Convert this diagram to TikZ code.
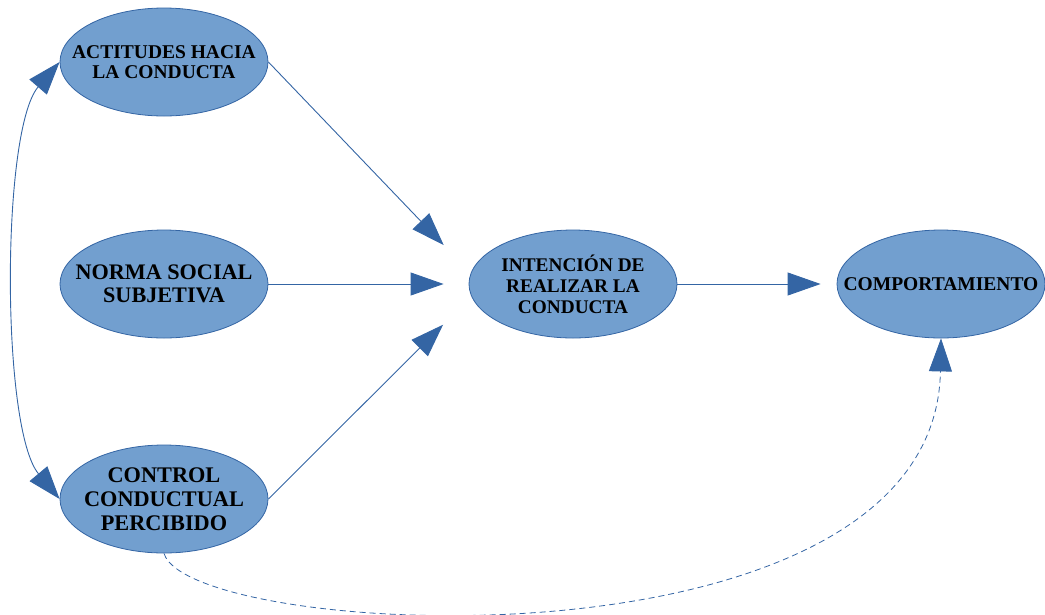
\documentclass[tikz,border=0pt]{standalone}
\usepackage{fontspec}
\setmainfont{Liberation Serif}
\usetikzlibrary{shapes.geometric,arrows.meta}
\definecolor{fillblue}{HTML}{729FCF}
\definecolor{lineblue}{HTML}{3465A4}
\begin{document}
\begin{tikzpicture}[x=1pt,y=-1pt,
  bub/.style={ellipse, draw=lineblue, fill=fillblue, line width=0.8pt,
    minimum width=208pt, minimum height=108pt, inner sep=-30pt, align=center,
    font=\bfseries\fontsize{19.5}{20.5}\selectfont},
  bigtxt/.style={font=\bfseries\fontsize{22.2}{23.5}\selectfont},
  tip/.tip={Triangle[length=33pt,width=23pt]},
  conn/.style={draw=lineblue, line width=0.9pt, -tip},
  twoway/.style={draw=lineblue, line width=0.9pt, tip-tip},
  dashconn/.style={draw=lineblue, line width=0.8pt, dash pattern=on 6pt off 4pt, -tip}
]
\useasboundingbox (0,0) rectangle (1045,614);

\node[bub] (act) at (164,62) {ACTITUDES HACIA\\LA CONDUCTA};
\node[bub,bigtxt] (norm) at (164,284) {NORMA SOCIAL\\SUBJETIVA};
\node[bub,font=\bfseries\fontsize{22.3}{24}\selectfont] (ctrl) at (164,499) {CONTROL\\CONDUCTUAL\\PERCIBIDO};
\node[bub,font=\bfseries\fontsize{19.3}{21}\selectfont] (int) at (573,284) {INTENCIÓN DE\\REALIZAR LA\\CONDUCTA};
\node[bub] (comp) at (941,284) {COMPORTAMIENTO};

\draw[conn, shorten >=39pt] (act.east) -- (int.174);
\draw[conn, shorten >=25pt] (norm.east) -- (int.west);
\draw[conn, shorten >=40pt] (ctrl.east) -- (int.187);
\draw[conn, shorten >=16pt] (int.east) -- (comp.west);
\draw[twoway] (act.west) .. controls (1,130) and (1,429) .. (ctrl.west);
\draw[dashconn] (ctrl.south) .. controls (190,640) and (935,680) .. (comp.south);
\end{tikzpicture}
\end{document}
